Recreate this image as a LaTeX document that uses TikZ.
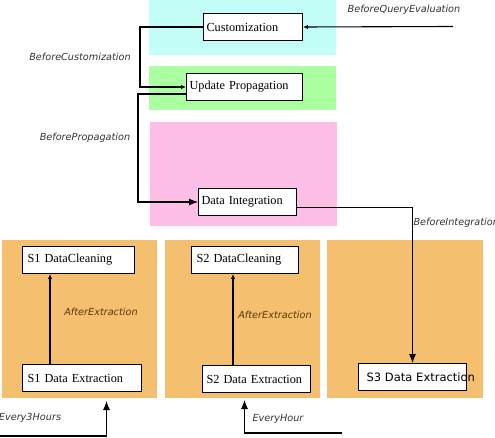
\documentclass[tikz,border=0pt]{standalone}
\usepackage{fontspec}
\setmainfont{Liberation Serif}
\newfontfamily\labelfam{DejaVu Sans}
\usetikzlibrary{arrows.meta}
\definecolor{custbg}{RGB}{194,253,247}
\definecolor{propbg}{RGB}{170,255,160}
\definecolor{integbg}{RGB}{253,191,230}
\definecolor{srcbg}{RGB}{244,192,112}
\definecolor{brownlabel}{RGB}{90,55,10}
\tikzset{
	box/.style={draw,fill=white,line width=1pt,anchor=north west,inner xsep=3pt,inner ysep=0pt,
		minimum height=27pt,align=left,font=\fontsize{12.3}{14}\selectfont},
	tag/.style={font=\labelfam\itshape\fontsize{9.7}{11}\selectfont,text=black!80,inner sep=0pt},
	small/.style={-{Latex[length=5pt,width=4.5pt]}}
}
\begin{document}
\begin{tikzpicture}[x=1pt,y=-1pt,line width=1.1pt,>={Latex[length=9pt,width=7pt]}]
	\useasboundingbox (0,0) rectangle (495,438);
	% coloured regions
	\fill[custbg] (149,0) rectangle (336,55);
	\fill[propbg] (149,66) rectangle (336,110);
	\fill[integbg] (150,122) rectangle (337,226);
	\fill[srcbg] (2,240) rectangle (157,398);
	\fill[srcbg] (165,240) rectangle (320,398);
	\fill[srcbg] (327,240) rectangle (483,398);
	% stages
	\node[box,text width=93pt] (cust) at (203,13) {Customization};
	\node[box,text width=110pt] (upd) at (186,73) {Update Propagation};
	\node[box,text width=92pt] (integ) at (198,188) {Data Integration};
	\node[box,text width=102pt,inner xsep=5pt] (s1c) at (22,246) {S1 DataCleaning};
	\node[box,text width=109pt,inner xsep=5pt] (s1x) at (22,364) {S1 Data Extraction};
	\node[box,text width=97pt,inner xsep=5pt] (s2c) at (191,246) {S2 DataCleaning};
	\node[box,text width=100pt,inner xsep=4pt] (s2x) at (202,365) {S2 Data Extraction};
	\node[box,text width=92pt,inner xsep=8pt,font=\labelfam\fontsize{11.5}{13}\selectfont] (s3x) at (358,363) {\mbox{S3 Data Extraction}};
	% triggers
	\coordinate (qry) at (453,26.5);
	\coordinate (t3h) at (0,436);
	\coordinate (t1h) at (342,433);
	\draw[small] (qry) -- (cust.east);
	\draw[small] (cust.west) -- ++(-63,0) |- (upd.west);
	\draw[->] ([yshift=-7pt]upd.west) -- ++(-48,0) |- (integ.west);
	\draw[->] ([yshift=-5.5pt]integ.east) -| (s3x.north);
	\draw[small] ([xshift=28pt]s1x.north west) -- ([xshift=28pt]s1c.south west);
	\draw[small] ([xshift=31pt]s2x.north west) -- ([xshift=42pt]s2c.south west);
	\draw[->,shorten >=9pt] (t3h) -| ([xshift=24.5pt]s1x.south);
	\draw[->,shorten >=7pt] (t1h) -| ([xshift=-12pt]s2x.south);
	% event labels
	\node[tag] (lq) at (404,10) {BeforeQueryEvaluation};
	\node[tag] (lc) at (80,57) {BeforeCustomization};
	\node[tag] (lp) at (85,138) {BeforePropagation};
	\node[tag,anchor=west] (li) at (413,223) {BeforeIntegration};
	\node[tag,text=brownlabel] (la1) at (101,312) {AfterExtraction};
	\node[tag,text=brownlabel] (la2) at (275,315) {AfterExtraction};
	\node[tag] (l3h) at (30,418) {Every3Hours};
	\node[tag] (l1h) at (278,419) {EveryHour};
\end{tikzpicture}
\end{document}
